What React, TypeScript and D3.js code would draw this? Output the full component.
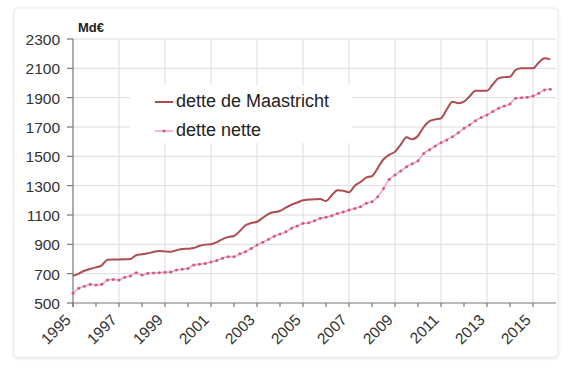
import * as d3 from 'd3';
import { useEffect, useRef } from 'react';

// quarterly values, 1995 Q1 -> 2015 Q4 (Md€)
const startYear = 1995;
const maastricht = [
  686, 700, 720, 733, 743, 757, 795, 797, 797, 798, 800, 826,
  832, 839, 848, 855, 852, 850, 860, 868, 870, 875, 890, 898,
  900, 915, 936, 950, 957, 990, 1030, 1045, 1054, 1080, 1108, 1120,
  1127, 1150, 1170, 1185, 1200, 1205, 1207, 1209, 1195, 1235, 1268, 1265,
  1255, 1300, 1325, 1355, 1365, 1420, 1480, 1510, 1532, 1580, 1630, 1616,
  1640, 1700, 1740, 1752, 1760, 1820, 1873, 1862, 1873, 1910, 1948, 1948,
  1948, 1990, 2032, 2040, 2043, 2090, 2100, 2100, 2100, 2140, 2168, 2161,
];
const detteNette = [
  566, 600, 615, 627, 623, 627, 657, 661, 657, 675, 684, 707,
  691, 702, 705, 707, 709, 712, 725, 730, 736, 759, 765, 770,
  780, 790, 805, 816, 816, 835, 850, 872, 895, 915, 934, 955,
  970, 985, 1010, 1025, 1043, 1048, 1060, 1077, 1085, 1095, 1111, 1120,
  1134, 1145, 1157, 1180, 1191, 1225, 1280, 1343, 1373, 1400, 1429, 1450,
  1470, 1520, 1545, 1570, 1593, 1612, 1634, 1660, 1691, 1715, 1743, 1765,
  1782, 1805, 1827, 1843, 1857, 1896, 1900, 1902, 1911, 1930, 1952, 1957,
];
const yTicks = [500, 700, 900, 1100, 1300, 1500, 1700, 1900, 2100, 2300];
const xLabels = [1995, 1997, 1999, 2001, 2003, 2005, 2007, 2009, 2011, 2013, 2015];
const legendLabels = ['dette de Maastricht', 'dette nette'];

const W = 572;
const H = 368;
const font = 'Liberation Sans, Arial, sans-serif';

function LineChart() {
  const svgRef = useRef<SVGSVGElement>(null);

  useEffect(() => {
    if (!svgRef.current) return;
    const svg = d3.select(svgRef.current);
    svg.selectAll('*').remove();

    const x = d3.scaleLinear().domain([1995, 2016]).range([73, 556]);
    const y = d3.scaleLinear().domain([500, 2300]).range([303, 39]);

    // card
    const defs = svg.append('defs');
    const f = defs.append('filter').attr('id', 'shadow').attr('x', '-5%').attr('y', '-5%').attr('width', '110%').attr('height', '110%');
    f.append('feDropShadow').attr('dx', 0).attr('dy', 1).attr('stdDeviation', 1.5).attr('flood-color', '#000').attr('flood-opacity', 0.12);
    svg.append('rect')
      .attr('x', 14).attr('y', 8).attr('width', 544).attr('height', 349)
      .attr('rx', 4).attr('fill', '#fff').attr('stroke', '#ececec')
      .attr('filter', 'url(#shadow)');

    // grid
    const grid = svg.append('g').attr('stroke', '#dcdcdc').attr('stroke-width', 1);
    yTicks.slice(1).forEach((t) => {
      grid.append('line').attr('x1', x(1995)).attr('x2', x(2016))
        .attr('y1', y(t)).attr('y2', y(t));
    });
    xLabels.slice(1).forEach((t) => {
      grid.append('line').attr('x1', x(t)).attr('x2', x(t))
        .attr('y1', y(2300)).attr('y2', y(500));
    });

    // axes
    const axis = svg.append('g').attr('stroke', '#777').attr('stroke-width', 1.2);
    axis.append('line').attr('x1', x(1995)).attr('x2', x(1995)).attr('y1', y(2300)).attr('y2', y(500) + 4);
    axis.append('line').attr('x1', x(1995)).attr('x2', x(2016)).attr('y1', y(500)).attr('y2', y(500));
    yTicks.forEach((t) => {
      axis.append('line').attr('x1', x(1995) - 6).attr('x2', x(1995)).attr('y1', y(t)).attr('y2', y(t));
    });
    d3.range(1995, 2016).forEach((t) => {
      axis.append('line').attr('x1', x(t)).attr('x2', x(t)).attr('y1', y(500)).attr('y2', y(500) + 4);
    });

    svg.append('g').selectAll('text').data(yTicks).enter().append('text')
      .attr('x', x(1995) - 13).attr('y', (d) => y(d) + 2)
      .attr('text-anchor', 'end').attr('dominant-baseline', 'middle')
      .attr('font-family', font).attr('font-size', 15.5).attr('fill', '#333')
      .text((d) => d);

    svg.append('g').selectAll('text').data(xLabels).enter().append('text')
      .attr('transform', (d) => `translate(${x(d) - 4},${y(500) + 15}) rotate(-45)`)
      .attr('text-anchor', 'end').attr('dominant-baseline', 'middle')
      .attr('font-family', font).attr('font-size', 15.5).attr('fill', '#333')
      .text((d) => d);

    svg.append('text')
      .attr('x', 78).attr('y', 32)
      .attr('font-family', font).attr('font-size', 13).attr('font-weight', 'bold').attr('fill', '#222')
      .text('Md€');

    const line = d3.line<number>()
      .x((_, i) => x(startYear + i * 0.25))
      .y((d) => y(d))
      .curve(d3.curveMonotoneX);

    svg.append('path').datum(detteNette)
      .attr('d', line).attr('fill', 'none')
      .attr('stroke', '#f2a6c4').attr('stroke-width', 1.6);
    svg.append('g').selectAll('circle').data(detteNette).enter().append('circle')
      .attr('cx', (_, i) => x(startYear + i * 0.25)).attr('cy', (d) => y(d))
      .attr('r', 1.5).attr('fill', '#c95a86');

    svg.append('path').datum(maastricht)
      .attr('d', line).attr('fill', 'none')
      .attr('stroke', '#ad4d50').attr('stroke-width', 2);

    // legend
    const lg = svg.append('g');
    lg.append('rect').attr('x', 130).attr('y', 85).attr('width', 222).attr('height', 58).attr('fill', '#fff');
    lg.append('line').attr('x1', 155).attr('x2', 173).attr('y1', 102).attr('y2', 102)
      .attr('stroke', '#ad4d50').attr('stroke-width', 2);
    lg.append('line').attr('x1', 155).attr('x2', 173).attr('y1', 131).attr('y2', 131)
      .attr('stroke', '#f2a6c4').attr('stroke-width', 1.6);
    lg.append('circle').attr('cx', 164).attr('cy', 131).attr('r', 1.5).attr('fill', '#c95a86');
    legendLabels.forEach((l, i) => {
      lg.append('text').attr('x', 176).attr('y', 102 + i * 29)
        .attr('dominant-baseline', 'middle')
        .attr('font-family', font).attr('font-size', 18).attr('fill', '#222')
        .text(l);
    });
  }, []);

  return <svg ref={svgRef} width={W} height={H} style={{ display: 'block' }} />;
}

export default function App() {
  return (
    <div style={{ position: 'absolute', left: 0, top: 0, background: '#fff' }}>
      <LineChart />
    </div>
  );
}
